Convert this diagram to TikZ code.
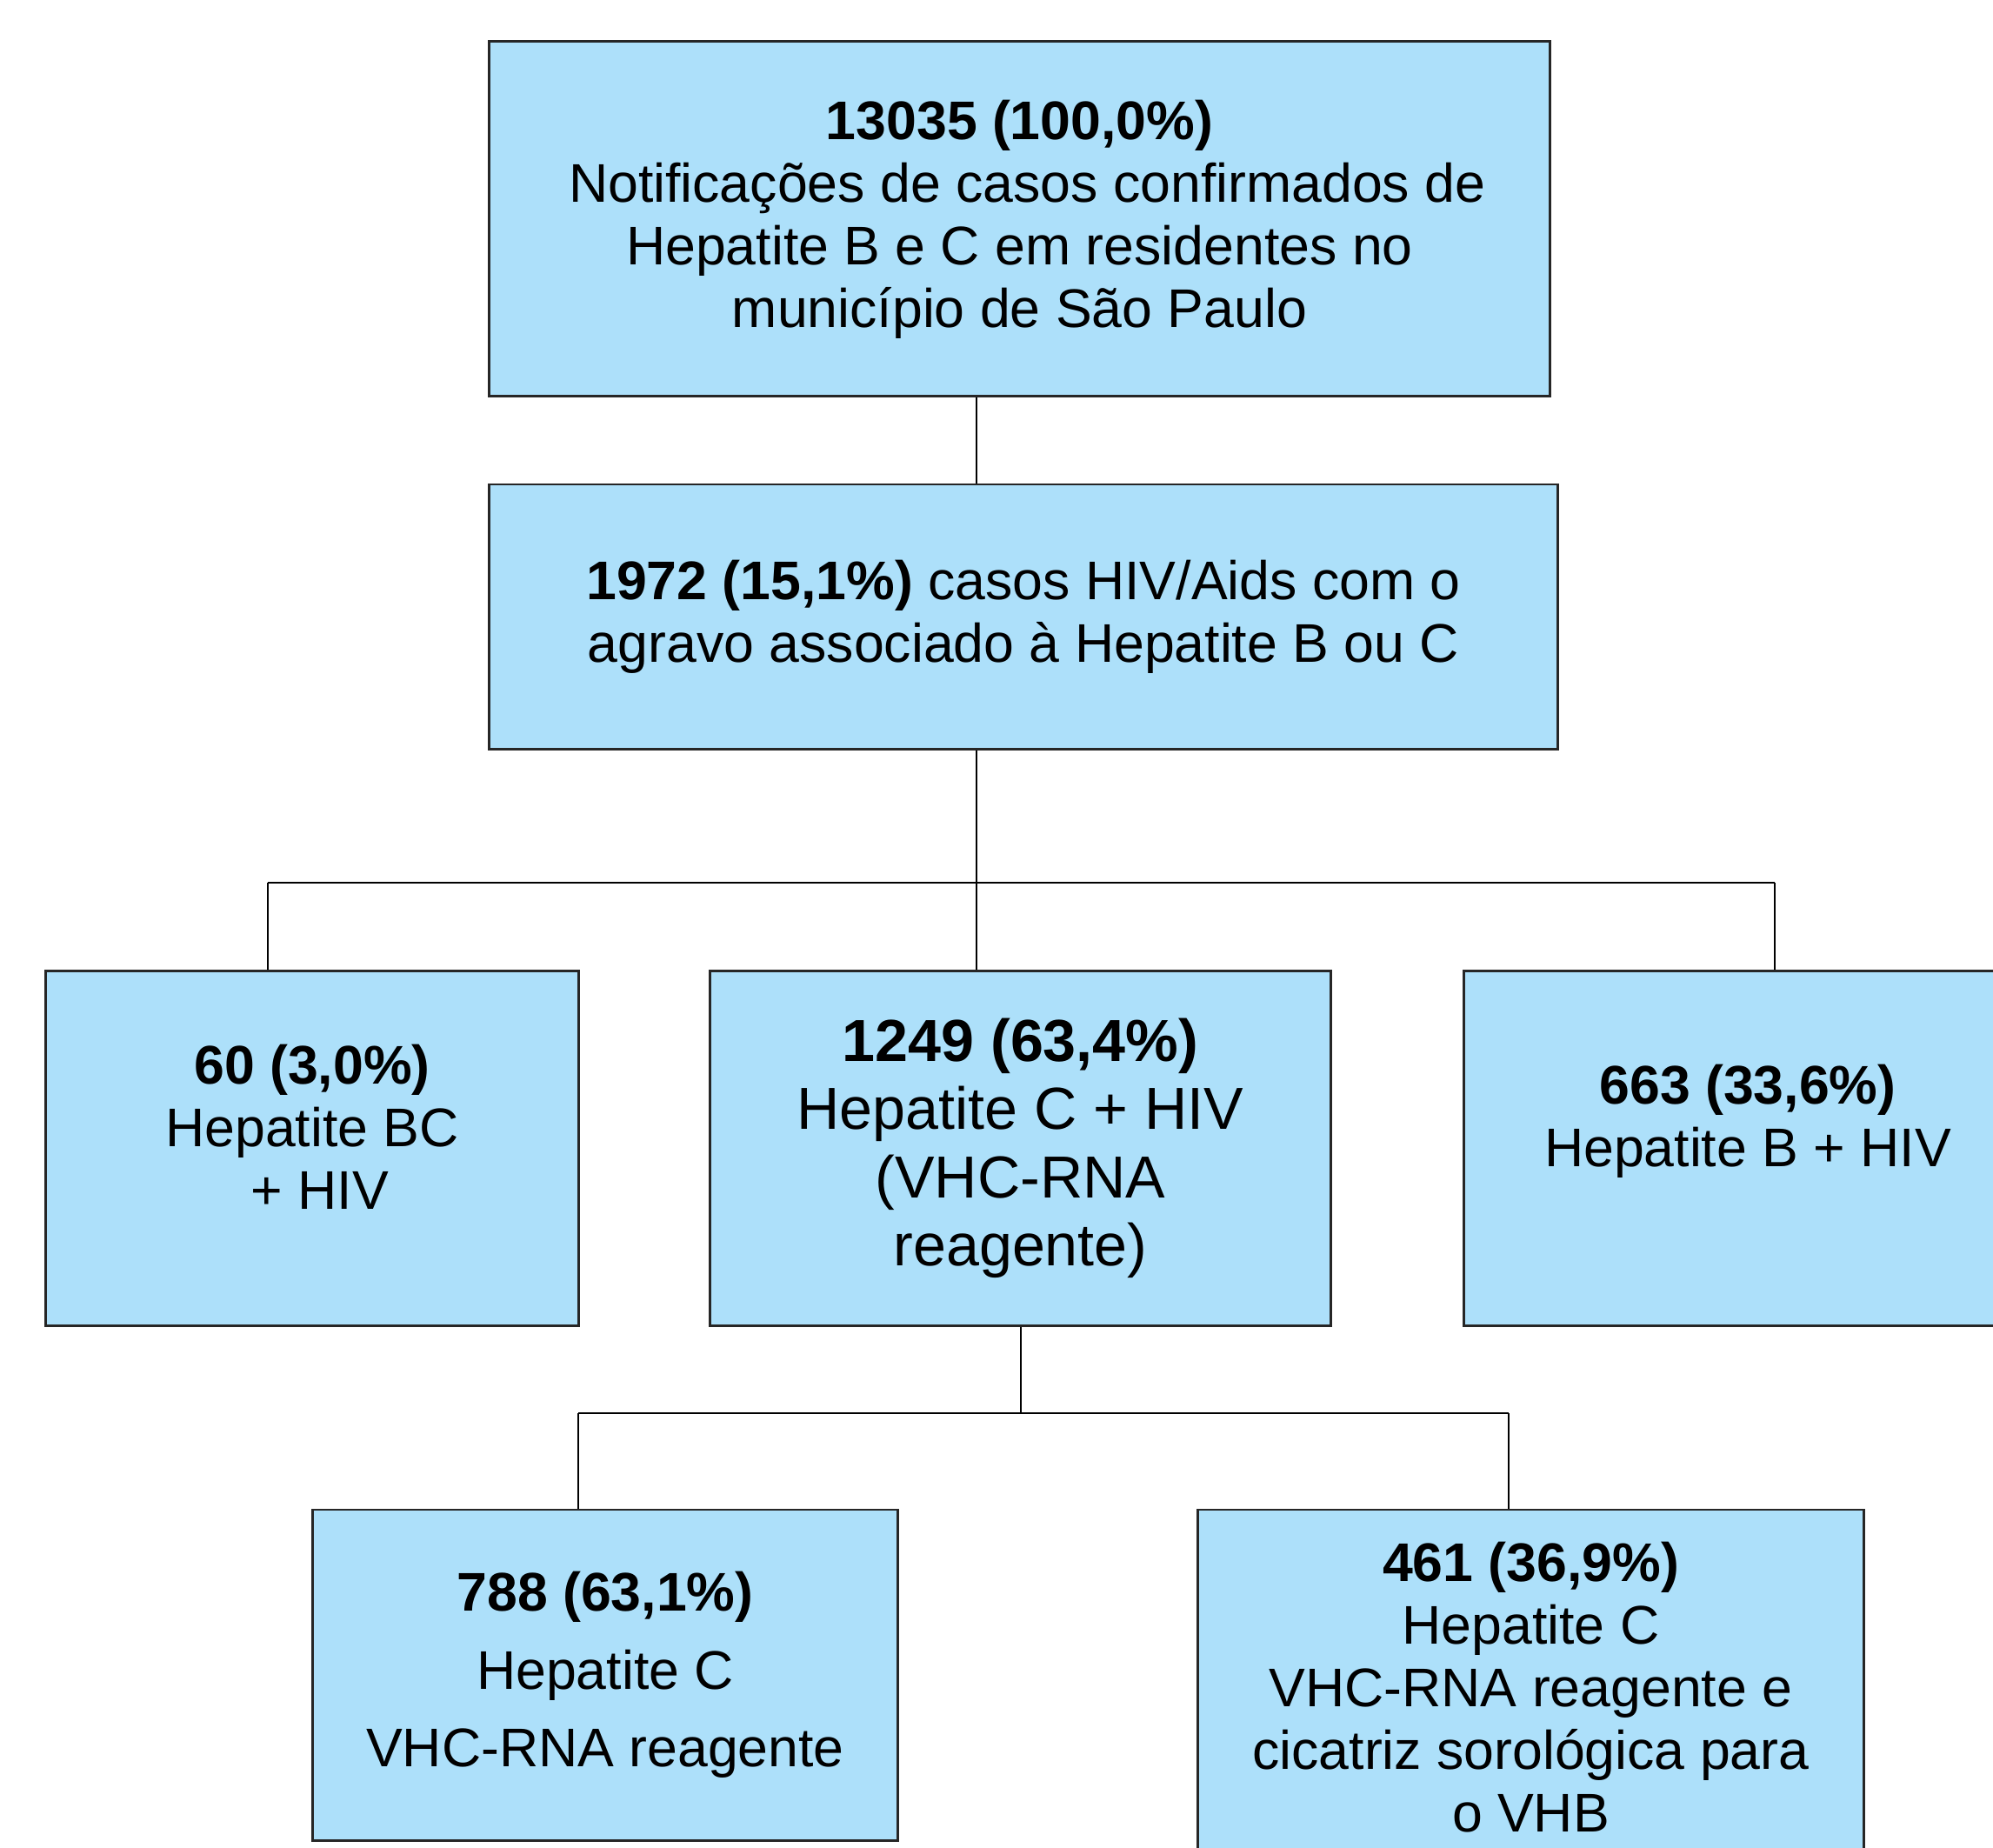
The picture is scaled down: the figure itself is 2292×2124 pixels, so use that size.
\documentclass[tikz,border=0pt]{standalone}
\usepackage{fontspec}
\setmainfont{Liberation Sans}
\usetikzlibrary{positioning}
\definecolor{boxblue}{RGB}{173,224,250}
\tikzstyle{box} = [rectangle, draw=black!85, line width=0.8pt, fill=boxblue, align=center, inner sep=0pt, font=\fontsize{17.8}{20.5}\selectfont]
\tikzstyle{link} = [line width=0.55pt, black]

\begin{document}
\begin{tikzpicture}[x=0.01cm, y=-0.01cm]
    \useasboundingbox (0,0) rectangle (2292,2124);
    \clip (0,0) rectangle (2292,2124);
    \node(total)[box, minimum width=12.19cm, minimum height=4.07cm, text depth=0.12cm] at (1172.5,251.5) {\textbf{13035 (100,0\%)}\\\ Notificações de casos confirmados de\\Hepatite B e C em residentes no\\município de São Paulo};
    \node(hiv)[box, minimum width=12.28cm, minimum height=3.04cm] at (1177,709) {\textbf{1972 (15,1\%)} casos HIV/Aids com o\\agravo associado à Hepatite B ou C};
    %
    \node(bc)[box, minimum width=6.12cm, minimum height=4.07cm, text depth=0.5cm] at (359,1320.5) {\textbf{60 (3,0\%)}\\Hepatite BC\\\ + HIV};
    \node(hc)[box, minimum width=7.13cm, minimum height=4.07cm, font=\fontsize{19.4}{22.3}\selectfont] at (1173.5,1320.5) {\textbf{1249 (63,4\%)}\\Hepatite C + HIV\\(VHC-RNA\\reagente)};
    \node(hb)[box, minimum width=6.52cm, minimum height=4.07cm, text depth=0.75cm] at (2010,1320.5) {\textbf{663 (33,6\%)}\\Hepatite B + HIV};
    %
    \node(rna)[box, minimum width=6.72cm, minimum height=3.80cm] at (696,1926) {\textbf{788 (63,1\%)}\\[5pt]Hepatite C\\[5pt]VHC-RNA reagente};
    \node(scar)[box, minimum width=7.65cm, minimum height=4.08cm] at (1760.5,1940) {\textbf{461 (36,9\%)}\\Hepatite C\\VHC-RNA reagente e\\cicatriz sorológica para\\o VHB};
    %
    \coordinate(stem) at (1123,1015);
    \coordinate(busL) at (308,1015);
    \coordinate(busR) at (2041,1015);
    \coordinate(fork) at (1174,1625);
    \coordinate(forkL) at (665,1625);
    \coordinate(forkR) at (1735,1625);
    %
    \draw[link](stem |- total.south) -- (stem |- hiv.north);
    \draw[link](stem |- hiv.south) -- (stem |- hc.north);
    \draw[link](busL) -- (busR);
    \draw[link](busL) -- (busL |- bc.north);
    \draw[link](busR) -- (busR |- hb.north);
    \draw[link](fork |- hc.south) -- (fork);
    \draw[link](forkL) -- (forkR);
    \draw[link](forkL) -- (forkL |- rna.north);
    \draw[link](forkR) -- (forkR |- scar.north);
\end{tikzpicture}
\end{document}
